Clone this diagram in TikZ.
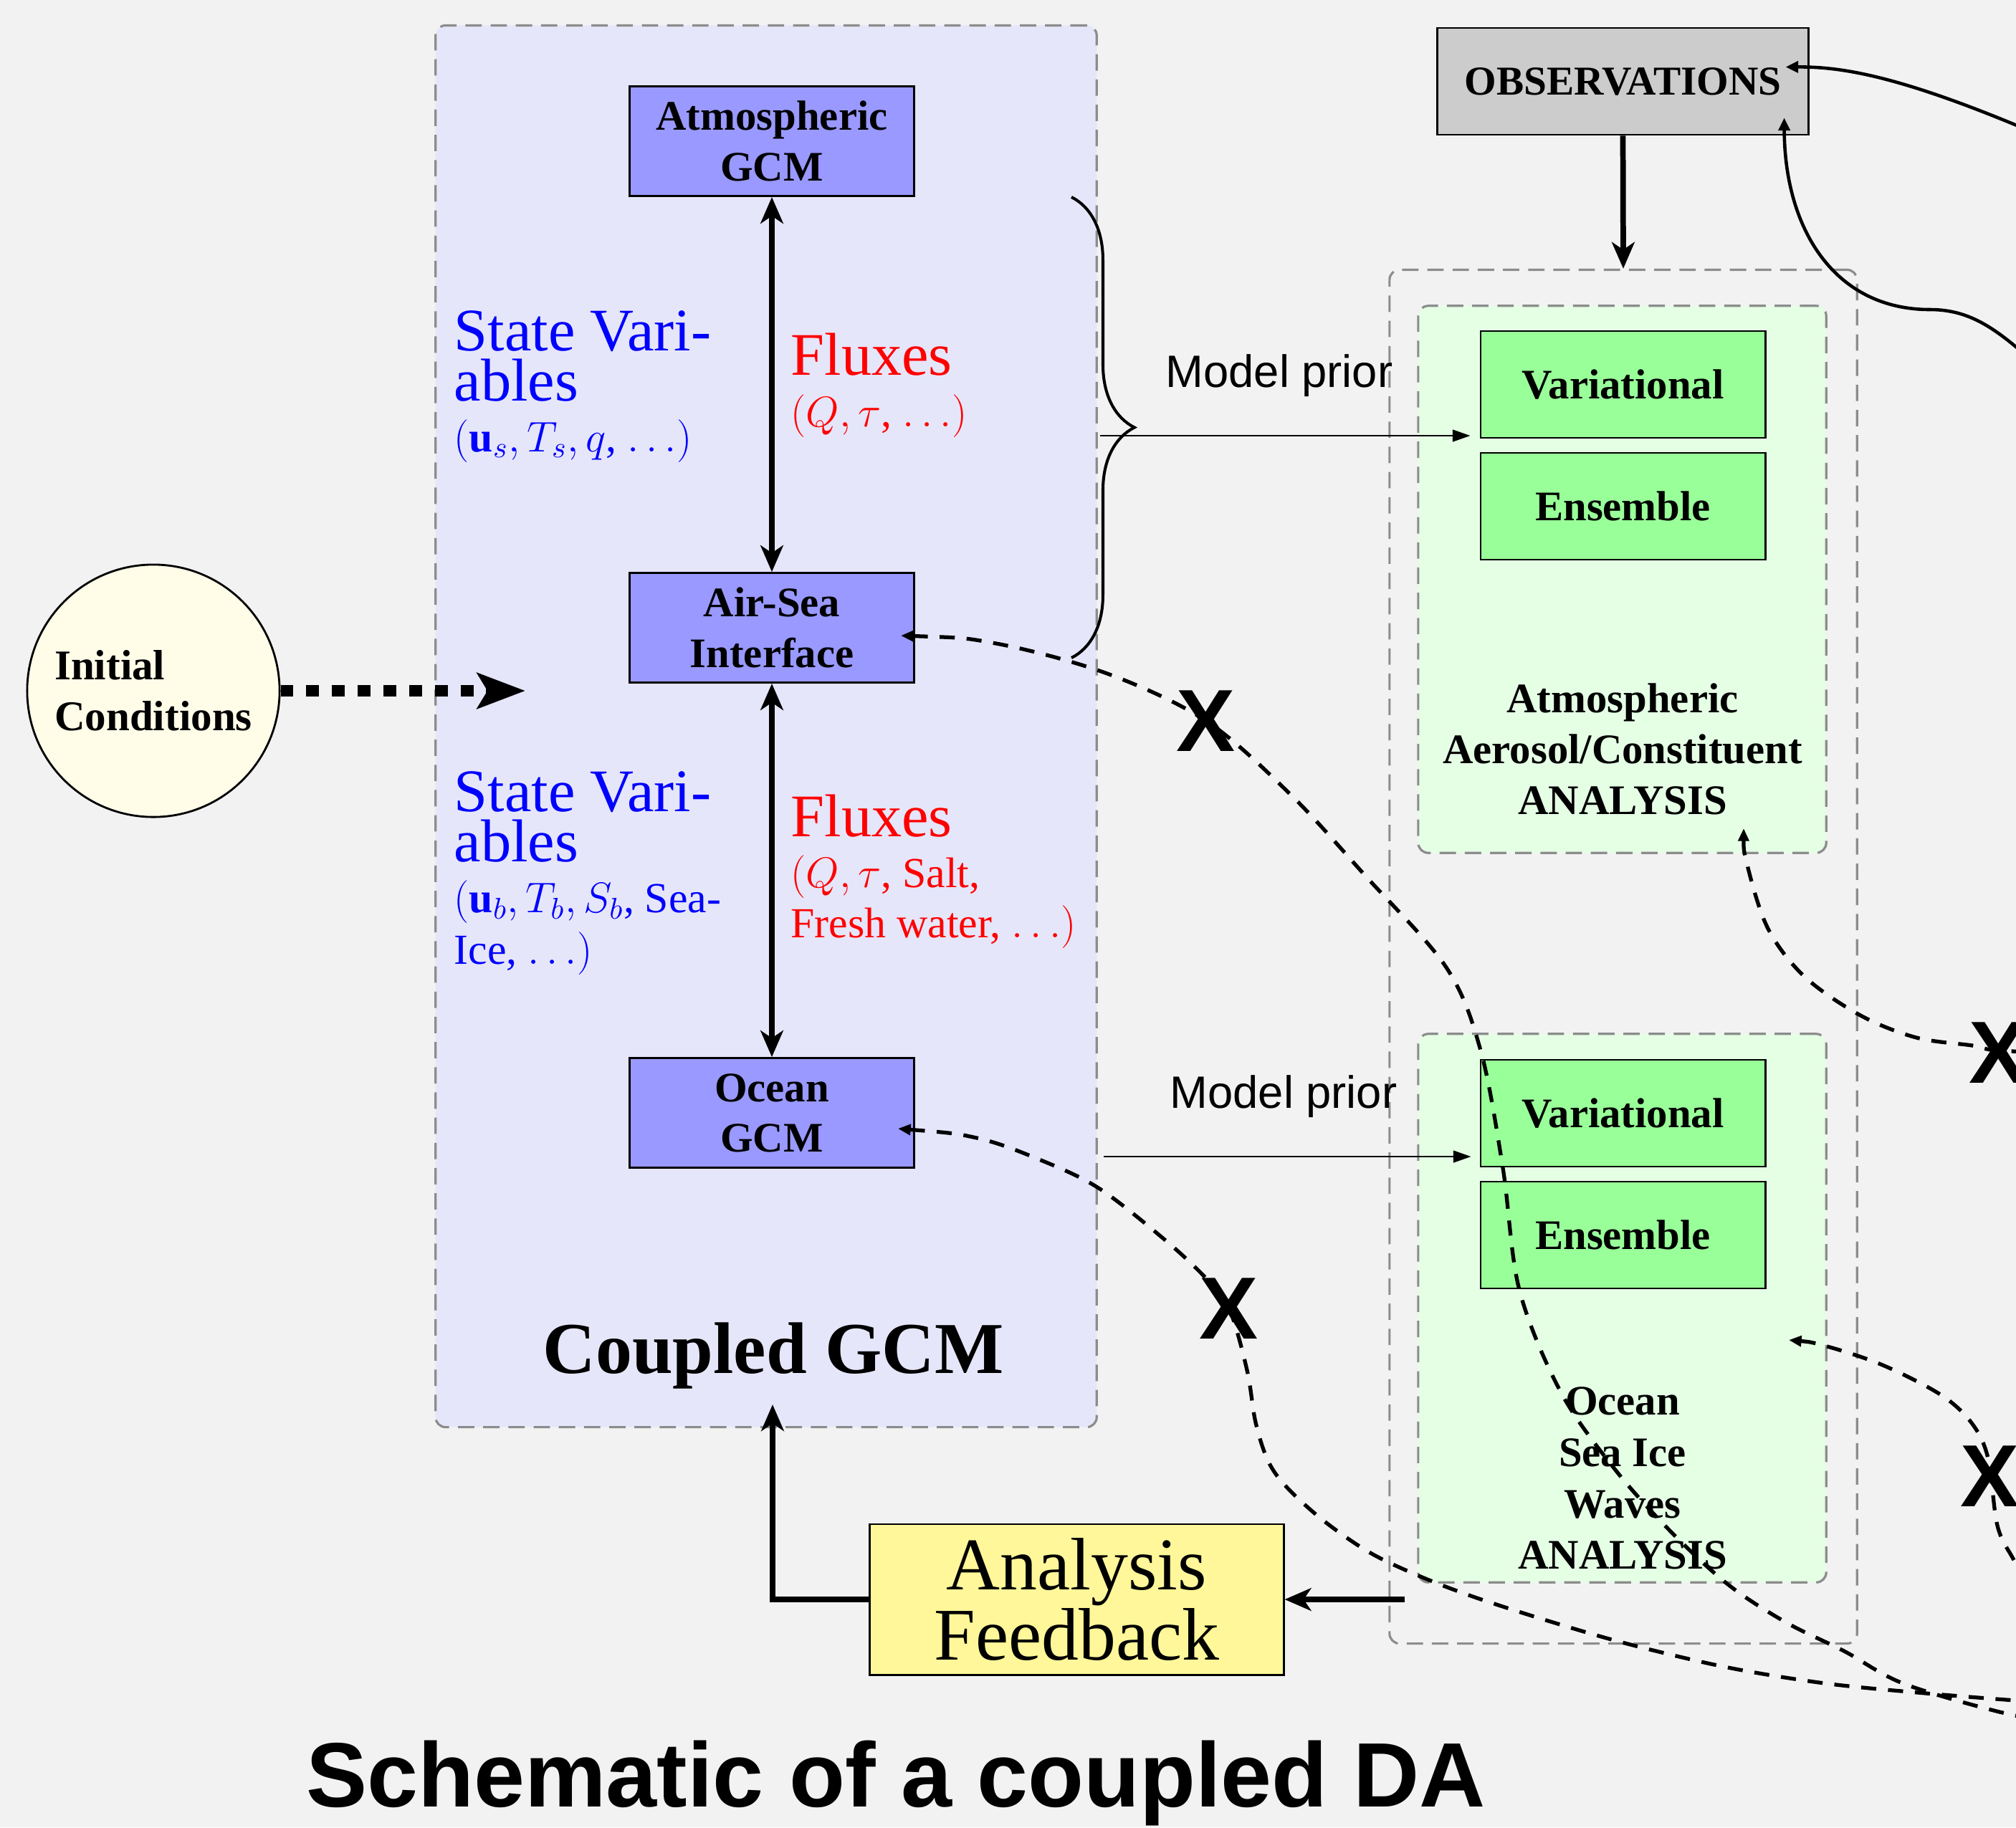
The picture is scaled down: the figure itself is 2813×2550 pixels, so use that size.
\RequirePackage{fix-cm}
\documentclass[tikz,border=0pt]{standalone}
\usepackage{fontspec}
\setmainfont{Liberation Serif}
\newfontfamily\sansfam{Liberation Sans}
\usetikzlibrary{arrows.meta, decorations.pathreplacing, calc}

\definecolor{bgray}{HTML}{F2F2F2}
\definecolor{cplfill}{RGB}{230,230,250}
\definecolor{gcmfill}{RGB}{153,153,255}
\definecolor{anafill}{RGB}{229,255,229}
\definecolor{methfill}{RGB}{153,255,153}
\definecolor{obsfill}{RGB}{204,204,204}
\definecolor{fbfill}{RGB}{255,247,153}
\definecolor{icfill}{RGB}{255,252,232}
\definecolor{zoneline}{RGB}{140,140,140}
\definecolor{txtblue}{RGB}{0,0,255}
\definecolor{txtred}{RGB}{255,0,0}

\newcommand{\fsz}[2]{\fontsize{#1}{#2}\selectfont}

\begin{document}
\begin{tikzpicture}[x=0.01cm, y=-0.01cm,
  >={Stealth[length=10.5pt,width=9pt,inset=3pt]},
  zone/.style={draw=zoneline, line width=0.9pt, dash pattern=on 6.5pt off 3.5pt, rounded corners=4pt, inner sep=0pt},
  box/.style={draw=black, line width=0.8pt, inner sep=0pt, align=center, font=\bfseries\fsz{16.7}{20}},
  gcmbox/.style={box, fill=gcmfill, minimum width=3.97cm, minimum height=1.53cm},
  methbox/.style={box, fill=methfill, minimum width=3.97cm, minimum height=1.49cm},
  bigtxt/.style={anchor=base west, inner sep=0pt, font=\fsz{24}{20}},
  smalltxt/.style={anchor=base west, inner sep=0pt, font=\fsz{17}{20}},
  analbl/.style={anchor=base, inner sep=0pt, font=\bfseries\fsz{16.7}{20}},
  flowline/.style={line width=2.2pt},
  priorarrow/.style={line width=0.45pt, -{Triangle[length=7pt,width=4.8pt]}},
  backlink/.style={line width=1.5pt, dash pattern=on 6pt off 4.7pt, {Triangle[length=5pt,width=4.2pt]}-},
  obslink/.style={line width=1.3pt, {Triangle[length=5pt,width=4.5pt]}-},
  xmark/.style={inner sep=0pt, font=\sansfam\bfseries\fsz{35}{35}},
  prlbl/.style={anchor=base, inner sep=0pt, font=\sansfam\fsz{18}{20}}
]
\useasboundingbox (0,0) rectangle (2813,2550);
\clip (0,0) rectangle (2813,2550);
\fill[bgray] (0,0) rectangle (2813,2550);

% ---------- grouping zones ----------
\node[zone, fill=cplfill, minimum width=9.22cm, minimum height=19.55cm] (cpl) at (1069,1013.5) {};
\node[zone, minimum width=6.52cm, minimum height=19.16cm] (da) at (2265,1335) {};
\node[zone, fill=anafill, minimum width=5.69cm, minimum height=7.63cm] (atmana) at (2263.5,808.5) {};
\node[zone, fill=anafill, minimum width=5.69cm, minimum height=7.65cm] (ocnana) at (2263.5,1825.5) {};

% ---------- coupled model components ----------
\node[gcmbox] (atm) at (1077,197) {Atmospheric\\GCM};
\node[gcmbox] (airsea) at (1077,876) {Air-Sea\\Interface};
\node[gcmbox] (ocn) at (1077,1553) {Ocean\\GCM};

\node[anchor=base, inner sep=0pt, font=\bfseries\fsz{29}{32}] (cpllbl) at (1079,1916) {Coupled GCM};

% state variables and fluxes
\node[bigtxt, text=txtblue] (sv1a) at (633,489) {State Vari-};
\node[bigtxt, text=txtblue] (sv1b) at (633,559) {ables};
\node[smalltxt, text=txtblue] (sv1c) at (633,630) {$(\mathbf{u}_s, T_s, q$, $\ldots)$};
\node[bigtxt, text=txtred] (fx1a) at (1103,523) {Fluxes};
\node[smalltxt, text=txtred] (fx1b) at (1103,595) {$(Q, \tau$, $\ldots)$};

\node[bigtxt, text=txtblue] (sv2a) at (633,1132) {State Vari-};
\node[bigtxt, text=txtblue] (sv2b) at (633,1202) {ables};
\node[smalltxt, text=txtblue] (sv2c) at (633,1273) {$(\mathbf{u}_b, T_b, S_b$, Sea-};
\node[smalltxt, text=txtblue] (sv2d) at (633,1345) {Ice, $\ldots)$};
\node[bigtxt, text=txtred] (fx2a) at (1103,1167) {Fluxes};
\node[smalltxt, text=txtred] (fx2b) at (1103,1238) {$(Q, \tau$, Salt,};
\node[smalltxt, text=txtred] (fx2c) at (1103,1308) {Fresh water, $\ldots)$};

% ---------- analysis side ----------
\node[box, fill=obsfill, minimum width=5.17cm, minimum height=1.49cm, font=\bfseries\fsz{16.3}{20}] (obs) at (2264.5,113.5) {OBSERVATIONS};

\node[methbox] (var1) at (2264.5,536.5) {Variational};
\node[methbox] (ens1) at (2264.5,706.5) {Ensemble};
\node[analbl] (al1) at (2264,994) {Atmospheric};
\node[analbl] (al2) at (2264,1065) {Aerosol/Constituent};
\node[analbl] (al3) at (2264,1136) {ANALYSIS};

\node[methbox] (var2) at (2264.5,1553.5) {Variational};
\node[methbox] (ens2) at (2264.5,1723.5) {Ensemble};
\node[analbl] (ol1) at (2264,1974) {Ocean};
\node[analbl] (ol2) at (2264,2046) {Sea Ice};
\node[analbl] (ol3) at (2264,2118) {Waves};
\node[analbl] (ol4) at (2264,2189) {ANALYSIS};

\node[draw=black, line width=0.8pt, fill=fbfill, minimum width=5.77cm, minimum height=2.1cm, inner sep=0pt, align=center, font=\fsz{29.5}{28}] (fb) at (1502.5,2232) {Analysis\\Feedback};

\node[circle, draw=black, line width=0.8pt, fill=icfill, minimum size=3.52cm, inner sep=0pt, align=left, font=\bfseries\fsz{16.8}{20.2}] (ic) at (214,964) {Initial\\Conditions};

\node[anchor=base, inner sep=0pt, font=\sansfam\bfseries\fsz{36.3}{40}] (title) at (1250,2521) {Schematic of a coupled DA};

% ---------- model prior ----------
\coordinate (brtop) at (1495,275);
\coordinate (brbot) at (1495,918);
\draw[line width=1.15pt, decorate, decoration={brace, amplitude=25pt}] (brtop) -- (brbot);

\coordinate (mp1) at (1535,608);
\coordinate (mp2) at (1540,1614);
\draw[priorarrow, shorten >=1.3mm] (mp1) -- (mp1 -| var1.west);
\draw[priorarrow, shorten >=1.2mm] (mp2) -- (mp2 -| var2.west);
\node[prlbl] (prl1) at (1785,540) {Model prior};
\node[prlbl] (prl2) at (1791,1546) {Model prior};

% ---------- coupling and cycling arrows ----------
\draw[flowline, <->] (airsea.north) -- (atm.south);
\draw[flowline, <->] (airsea.south) -- (ocn.north);
\draw[flowline, ->] (obs.south) -- (da.north);

\coordinate (dafb) at (1960,2232);
\coordinate (fbin) at (1078,1960);
\draw[flowline, ->] (dafb) -- (fb.east);
\draw[flowline, ->] (fb.west) -| (fbin);

\coordinate (icend) at (733,964);
\draw[line width=4.75pt, dash pattern=on 5.1pt off 5.1pt, -{Stealth[length=19pt,width=14pt,inset=4pt]}] (ic.east) -- (icend);

% ---------- observation feeds ----------
\coordinate (obstipA) at ([shift={(-33,-20)}]obs.east);
\coordinate (obstipB) at ([shift={(-35,-25)}]obs.south east);
\coordinate (obsfarA) at (2950,235);
\coordinate (obsfarB) at (2880,545);
\draw[obslink] (obstipA) .. controls (2580,93) and (2680,110) .. (obsfarA);
\draw[obslink] (obstipB) .. controls (2490,320) and (2560,432) .. (2693,432)
                         .. controls (2760,432) and (2800,470) .. (obsfarB);

% ---------- X marks ----------
\node[xmark] (x1) at (1683,1006) {X};
\node[xmark] (x2) at (1715,1826) {X};
\node[xmark] (x3) at (2788,1469) {X};
\node[xmark] (x4) at (2776,2060) {X};

% ---------- cross-component links ----------
\coordinate (c1tip) at ([shift={(-20,11)}]airsea.east);
\coordinate (c2tip) at ([shift={(-24,22)}]ocn.east);
\coordinate (c3tip) at (2433,1156);
\coordinate (c4tip) at (2496,1870);
\coordinate (c1end) at (2900,2410);
\coordinate (c2end) at (2900,2378);
\coordinate (c3end) at (2900,1470);
\coordinate (c4end) at (2850,2245);

\draw[backlink] plot[smooth, tension=0.55] coordinates {(c1tip) (1390,898) (1545,940) (1683,1006) (1800,1108) (1905,1222) (2018,1350) (2066,1466) (2097,1630) (2120,1800) (2178,1943) (2253,2050) (2329,2135) (2411,2211) (2492,2264) (2573,2304) (2655,2349) (2790,2389) (c1end)};
\draw[backlink] plot[smooth, tension=0.55] coordinates {(c2tip) (1363,1588) (1450,1618) (1533,1658) (1624,1729) (1682,1783) (1715,1826) (1740,1912) (1752,1985) (1770,2040) (1797,2077) (1848,2123) (1912,2167) (1982,2200) (2058,2229) (2167,2264) (2275,2295) (2411,2327) (2546,2349) (2676,2362) (2813,2373) (c2end)};
\draw[backlink] plot[smooth, tension=0.55] coordinates {(c3tip) (2438,1207) (2467,1296) (2518,1363) (2596,1417) (2674,1448) (2752,1459) (2788,1466) (c3end)};
\draw[backlink] plot[smooth, tension=0.55] coordinates {(c4tip) (2546,1878) (2627,1905) (2709,1947) (2752,1987) (2774,2035) (2787,2129) (2810,2177) (c4end)};
\end{tikzpicture}
\end{document}
